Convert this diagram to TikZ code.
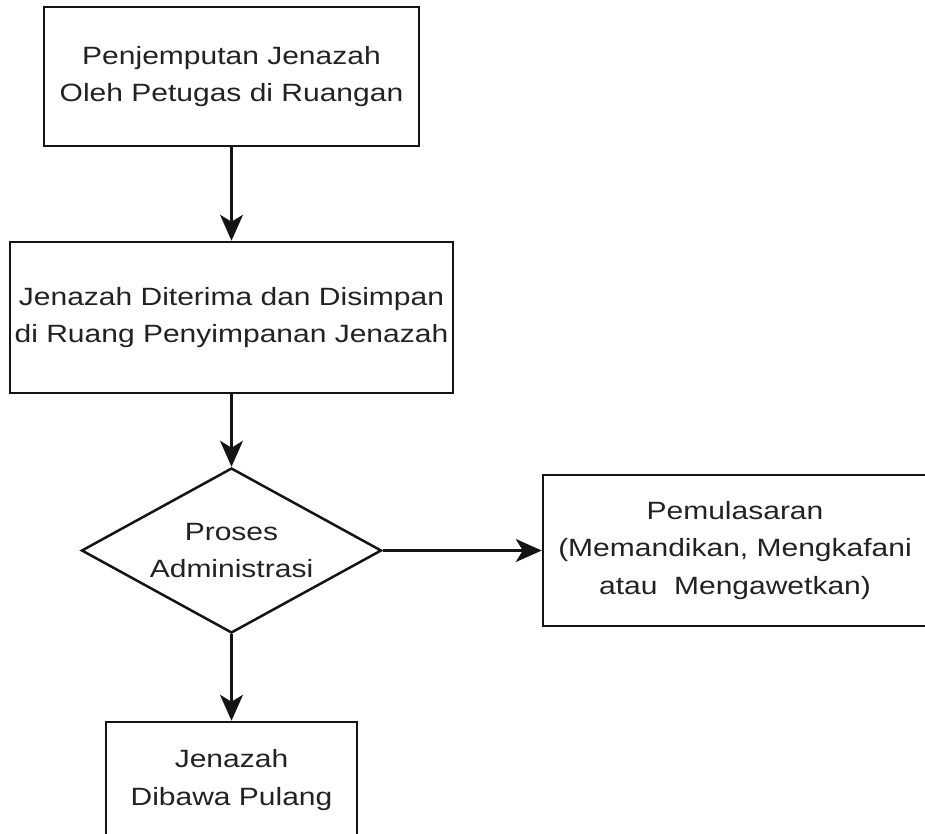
\documentclass[tikz,border=0pt]{standalone}
\usepackage{fontspec}
\setmainfont{Liberation Sans}[FakeStretch=1.2]
\usetikzlibrary{shapes.geometric,arrows.meta}
\definecolor{txt}{HTML}{222222}
\definecolor{ln}{HTML}{141414}
\begin{document}
\begin{tikzpicture}[x=1pt,y=-1pt,
  box/.style={draw=ln,line width=2.5pt,inner sep=0pt,align=center,text=txt,
    font=\fontsize{25}{37.5}\selectfont},
  decision/.style={box,diamond,aspect=1.82},
  flow/.style={draw=ln,line width=2.1pt,-{Stealth[length=26pt,width=23pt,inset=7pt]}}]
\useasboundingbox (0,0) rectangle (925,834);
\clip (0,0) rectangle (925,834);
\node[box,minimum width=375pt,minimum height=139pt] (b1) at (231.5,76.5)
  {Penjemputan Jenazah\\Oleh Petugas di Ruangan};
\node[box,minimum width=443pt,minimum height=151pt] (b2) at (231.5,317.5)
  {Jenazah Diterima dan Disimpan\\di Ruang Penyimpanan Jenazah};
\node[decision,minimum width=300pt,minimum height=165pt] (d) at (231.5,550.5)
  {Proses\\Administrasi};
\node[box,minimum width=384pt,minimum height=151pt] (b4) at (735,550.5)
  {Pemulasaran\\(Memandikan, Mengkafani\\atau\ \ Mengawetkan)};
\node[box,minimum width=251pt,minimum height=116pt] (b5) at (231.5,780)
  {Jenazah\\Dibawa Pulang};
\draw[flow] (b1) -- (b2);
\draw[flow] (b2) -- (d);
\draw[flow] (d) -- (b4);
\draw[flow] (d) -- (b5);
\end{tikzpicture}
\end{document}
